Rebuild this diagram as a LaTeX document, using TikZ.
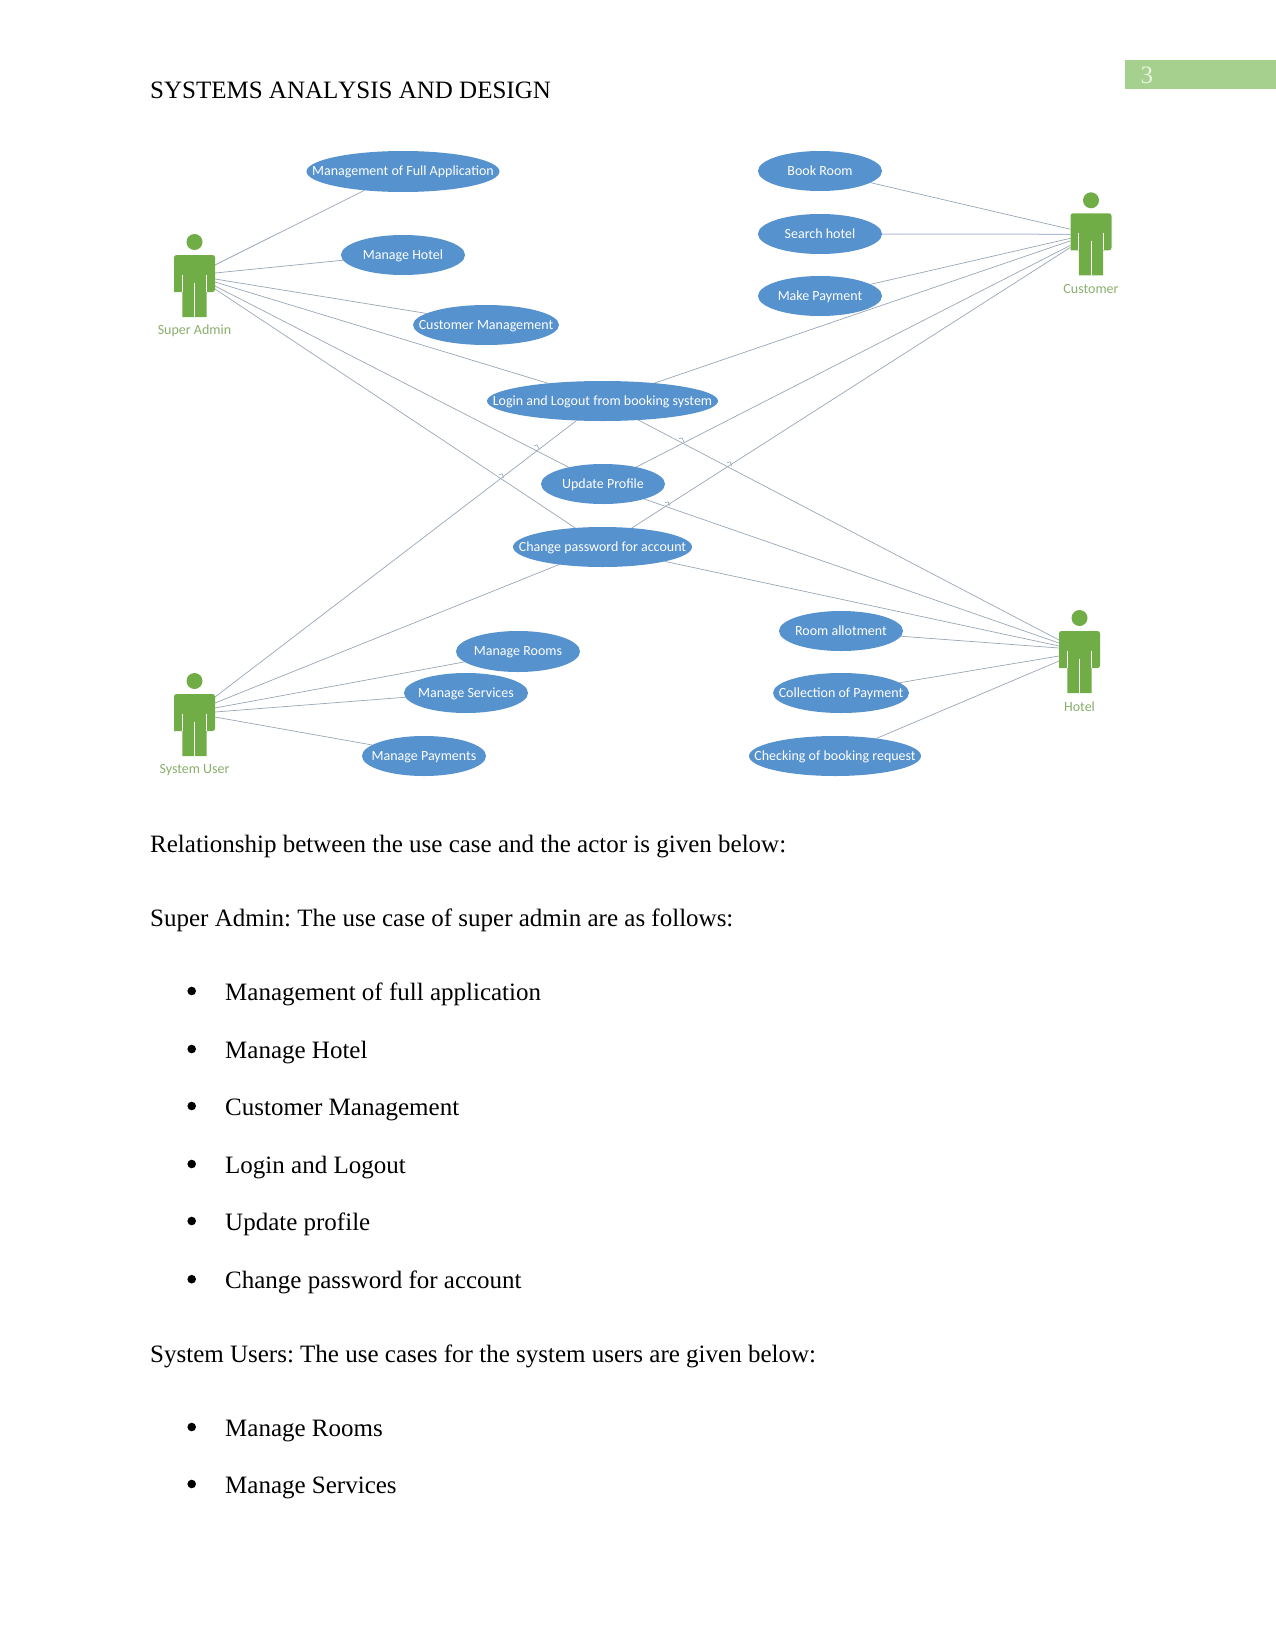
\documentclass[tikz,border=0pt]{standalone}
\usepackage{fontspec}
\setmainfont{Liberation Serif}
\newfontfamily\diagfont{Carlito}
\usetikzlibrary{shapes.geometric,backgrounds}
\definecolor{caseblue}{HTML}{5592CE}
\definecolor{actorgreen}{HTML}{70AD47}
\definecolor{labelgreen}{HTML}{8AAE6C}
\definecolor{linkgrey}{HTML}{98A6B6}
\definecolor{searchlink}{HTML}{AEBBDD}
\definecolor{tabgreen}{HTML}{A6D08E}
\definecolor{tabtext}{HTML}{E8F4DF}
\newcommand{\caselabel}[1]{\smash{\makebox[0pt]{\raisebox{-.31em}{#1}}}}
% one stick figure: name, centre x, shoulder y, caption
\newcommand{\figureactor}[4]{%
  \node[actorbox] (#1) at (#2,{#3+31}) {};
  \begin{scope}[shift={(#1.north west)}]
    \fill[actorgreen] (20.5,-13) circle[radius=8pt];
    \fill[actorgreen,rounded corners=2.5pt] (0,37) -- (0,0) -- (41,0) -- (41,37) [sharp corners] -- (32.7,37) -- (32.7,62) -- (8.3,62) -- (8.3,37) -- cycle;
    \draw[white,line width=.7pt] (8.3,20) -- (8.3,37) (32.7,20) -- (32.7,37) (20.5,28) -- (20.5,62);
  \end{scope}
  \node[actorcaption] (#1-caption) at (#2,{#3+76}) {#4};
}
% small jump where one link passes another
\newcommand{\linkhop}[2]{\draw[hop] ({#1-3},{#2-2.2}) -- ({#1},{#2-3.2}) -- ({#1+2},{#2+1});}
\tikzset{
  x=1pt,y=-1pt,
  usecase/.style={ellipse,fill=caseblue,inner sep=0pt,outer sep=0pt,text=white,font=\diagfont\fontsize{14}{17}\selectfont},
  actorbox/.style={rectangle,draw=none,inner sep=0pt,outer sep=0pt,minimum width=41pt,minimum height=62pt},
  actorcaption/.style={inner sep=0pt,text=labelgreen,font=\diagfont\fontsize{14}{17}\selectfont},
  link/.style={draw=linkgrey,line width=.7pt},
  hop/.style={draw=linkgrey,line width=.6pt},
  bodytext/.style={anchor=base west,inner sep=0pt,font=\fontsize{25}{30}\selectfont\frenchspacing},
  dot/.style={circle,fill=black,inner sep=0pt,minimum size=8.6pt},
}
\begin{document}
\begin{tikzpicture}
\useasboundingbox (0,0) rectangle (1275,1651);

% running head
\node[bodytext] (head) at (150,99) {\addfontfeatures{Kerning=Off}SYSTEMS ANALYSIS AND DESIGN};
\node[rectangle,fill=tabgreen,inner sep=0pt,minimum width=151pt,minimum height=29.3pt,anchor=north west] (tab) at (1124.5,60) {};
\node[bodytext,text=tabtext] (pagenum) at (1140.5,83.5) {3};

% use cases
\node[usecase,minimum width=193pt,minimum height=41pt] (fullapp) at (403,171.5) {\caselabel{Management of Full Application}};
\node[usecase,minimum width=124pt,minimum height=40pt] (managehotel) at (403,255) {\caselabel{Manage Hotel}};
\node[usecase,minimum width=146pt,minimum height=40pt] (custmgmt) at (486,325) {\caselabel{Customer Management}};
\node[usecase,minimum width=231pt,minimum height=40pt] (login) at (602.5,401) {\caselabel{Login and Logout from booking system}};
\node[usecase,minimum width=124pt,minimum height=40pt] (profile) at (603,484) {\caselabel{Update Profile}};
\node[usecase,minimum width=179pt,minimum height=40pt] (password) at (602.5,547) {\caselabel{Change password for account}};
\node[usecase,minimum width=124pt,minimum height=41pt] (rooms) at (518,651.5) {\caselabel{Manage Rooms}};
\node[usecase,minimum width=124pt,minimum height=40pt] (services) at (466,693) {\caselabel{Manage Services}};
\node[usecase,minimum width=124pt,minimum height=40pt] (payments) at (424,756) {\caselabel{Manage Payments}};
\node[usecase,minimum width=124pt,minimum height=40pt] (bookroom) at (820,171) {\caselabel{Book Room}};
\node[usecase,minimum width=124pt,minimum height=40pt] (search) at (820,234) {\caselabel{Search hotel}};
\node[usecase,minimum width=124pt,minimum height=40pt] (makepay) at (820,296) {\caselabel{Make Payment}};
\node[usecase,minimum width=124pt,minimum height=40pt] (allot) at (841,631) {\caselabel{Room allotment}};
\node[usecase,minimum width=136pt,minimum height=40pt] (collect) at (841,693) {\caselabel{Collection of Payment}};
\node[usecase,minimum width=172pt,minimum height=40pt] (checking) at (835,756) {\caselabel{Checking of booking request}};

% actors
\figureactor{admin}{194.5}{255}{Super Admin}
\figureactor{customer}{1091}{213.3}{Customer}
\figureactor{sysuser}{194.5}{694}{System User}
\figureactor{hotel}{1079.5}{631}{Hotel}

% associations sit under the ellipses
\begin{scope}[on background layer]
  \draw[link] ([yshift=-10pt]admin.north east) -- (fullapp.206.6);
  \draw[link] ([yshift=-18pt]admin.north east) -- (managehotel.185.7);
  \draw[link] ([yshift=-24pt]admin.north east) -- (custmgmt.169.4);
  \draw[link] ([yshift=-27pt]admin.north east) -- (login.162.6);
  \draw[link] ([yshift=-31pt]admin.north east) -- (profile.154.1);
  \draw[link] ([yshift=-34pt]admin.north east) -- (password.145.9);

  \draw[link] ([yshift=-16pt]customer.north west) -- (bookroom.347);
  \draw[link,draw=searchlink,line width=1pt] ([yshift=-21pt]customer.north west) -- (search.0);
  \draw[link] ([yshift=-25pt]customer.north west) -- (makepay.13);
  \draw[link] ([yshift=-27.5pt]customer.north west) -- (login.19.1);
  \draw[link] ([yshift=-32pt]customer.north west) -- (profile.27.9);
  \draw[link] ([yshift=-34pt]customer.north west) -- (password.33.3);

  \draw[link] ([yshift=-3pt]sysuser.north east) -- (login.217);
  \draw[link] ([yshift=-9pt]sysuser.north east) -- (password.202.7);
  \draw[link] ([yshift=-14pt]sysuser.north east) -- (rooms.191.6);
  \draw[link] ([yshift=-18pt]sysuser.north east) -- (services.184.5);
  \draw[link] ([yshift=-23pt]sysuser.north east) -- (payments.168.9);

  \draw[link] ([yshift=-9pt]hotel.north west) -- (login.332.6);
  \draw[link] ([yshift=-12pt]hotel.north west) -- (profile.340);
  \draw[link] ([yshift=-15pt]hotel.north west) -- (password.347.1);
  \draw[link] ([yshift=-17pt]hotel.north west) -- (allot.355.4);
  \draw[link] ([yshift=-25pt]hotel.north west) -- (collect.10);
  \draw[link] ([yshift=-30pt]hotel.north west) -- (checking.23.4);

  \linkhop{537}{448}
  \linkhop{502}{477}
  \linkhop{682}{441}
  \linkhop{730}{465}
  \linkhop{668}{505}
\end{scope}

% body text
\node[bodytext] (intro) at (150,852.3) {Relationship between the use case and the actor is given below:};
\node[bodytext] (adminintro) at (150,926) {Super Admin: The use case of super admin are as follows:};
\node[dot] (b1) at (191.7,991) {};
\node[bodytext] (i1) at (225,1000) {Management of full application};
\node[dot] (b2) at (191.7,1049) {};
\node[bodytext] (i2) at (225,1058) {Manage Hotel};
\node[dot] (b3) at (191.7,1106) {};
\node[bodytext] (i3) at (225,1115) {Customer Management};
\node[dot] (b4) at (191.7,1164) {};
\node[bodytext] (i4) at (225,1173) {Login and Logout};
\node[dot] (b5) at (191.7,1221) {};
\node[bodytext] (i5) at (225,1230) {Update profile};
\node[dot] (b6) at (191.7,1279.2) {};
\node[bodytext] (i6) at (225,1288.2) {Change password for account};
\node[bodytext] (userintro) at (150,1362) {System Users: The use cases for the system users are given below:};
\node[dot] (b7) at (191.7,1427) {};
\node[bodytext] (i7) at (225,1436) {Manage Rooms};
\node[dot] (b8) at (191.7,1484) {};
\node[bodytext] (i8) at (225,1493) {Manage Services};
\end{tikzpicture}
\end{document}
